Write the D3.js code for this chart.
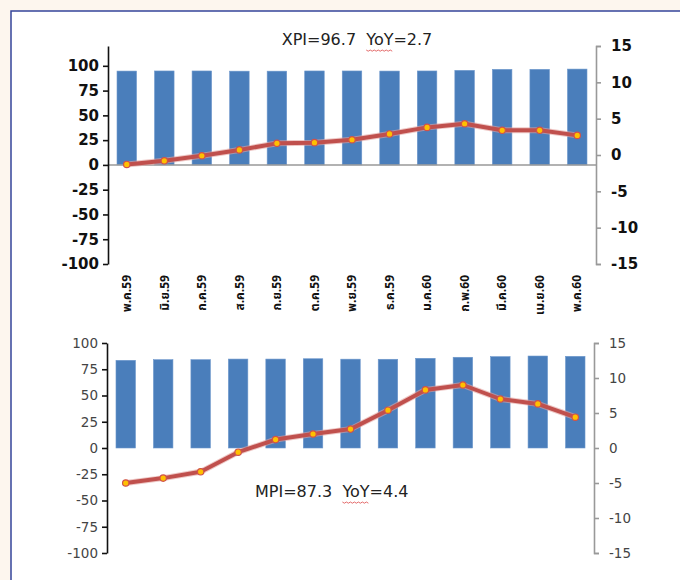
<!DOCTYPE html>
<html lang="th">
<head>
<meta charset="UTF-8">
<title>XPI / MPI</title>
<style>
  body { margin: 0; background: #fdf6ee; }
  .lbl-top text { font-family: "DejaVu Sans", sans-serif; font-weight: bold; font-size: 15px; fill: #111; }
  .lbl-bot text { font-family: "DejaVu Sans", sans-serif; font-size: 13.5px; fill: #444; }
  .month { font-family: "Noto Sans Thai", "Noto Sans", "DejaVu Sans", sans-serif; font-size: 12px; font-weight: bold; fill: #111; }
  .note { font-family: "DejaVu Sans", sans-serif; font-size: 16px; fill: #222; white-space: pre; }
</style>
</head>
<body>
<svg width="680" height="580"></svg>
<script src="https://d3js.org/d3.v7.min.js"></script>
<script>
var months = ["พ.ค.59", "มิ.ย.59", "ก.ค.59", "ส.ค.59", "ก.ย.59", "ต.ค.59", "พ.ย.59",
              "ธ.ค.59", "ม.ค.60", "ก.พ.60", "มี.ค.60", "เม.ย.60", "พ.ค.60"];
var xpi    = [94.7, 94.8, 94.8, 94.6, 94.6, 94.8, 94.8, 94.7, 94.8, 95.4, 96.4, 96.4, 96.7];
var xpiYoY = [-1.3, -0.8, -0.1, 0.7, 1.6, 1.7, 2.1, 2.9, 3.8, 4.3, 3.4, 3.4, 2.7];
var mpi    = [83.5, 84.1, 84.1, 84.7, 84.7, 85.0, 84.6, 84.5, 85.4, 86.4, 87.0, 87.6, 87.3];
var mpiYoY = [-5.0, -4.3, -3.4, -0.6, 1.2, 2.0, 2.7, 5.4, 8.3, 9.0, 7.0, 6.3, 4.4];
var leftTicks  = [-100, -75, -50, -25, 0, 25, 50, 75, 100];
var rightTicks = [-15, -10, -5, 0, 5, 10, 15];

var svg = d3.select("svg");
var plain = function(d) { return String(d); };   // hyphen minus, like the original

// frame
svg.append("rect").attr("x", 11).attr("y", 11).attr("width", 700).attr("height", 600)
  .attr("fill", "#fff").attr("stroke", "#34449a").attr("stroke-width", 1.5);

function panel(opt) {
  var g = svg.append("g");
  var x = d3.scaleBand().domain(months).range([opt.x0, opt.x1])
      .paddingInner(0.48).paddingOuter(0.24);
  var yL = d3.scaleLinear().domain(opt.leftDomain).range([opt.yBot, opt.yTop]);
  var yR = d3.scaleLinear().domain([-15, 15]).range([opt.yBot, opt.yTop]);

  g.selectAll(".bar").data(opt.bars).enter().append("rect")
    .attr("x", function(d, i) { return x(months[i]); })
    .attr("width", x.bandwidth())
    .attr("y", function(d) { return yL(d); })
    .attr("height", function(d) { return yL(0) - yL(d); })
    .attr("fill", "#4a7ebb").attr("stroke", "#6d97cc").attr("stroke-width", 0.6);

  if (opt.zeroLine) {
    g.append("line").attr("x1", opt.x0).attr("x2", opt.x1)
      .attr("y1", yL(0)).attr("y2", yL(0))
      .attr("stroke", "#999").attr("stroke-width", 1.5);
  }

  var la = g.append("g").attr("class", opt.cls)
    .attr("transform", "translate(" + opt.x0 + ",0)")
    .call(d3.axisLeft(yL).tickValues(leftTicks).tickFormat(plain)
      .tickSize(5).tickSizeOuter(0).tickPadding(4));
  la.selectAll("path, line").attr("stroke", "#111").attr("stroke-width", 1.6);

  var ra = g.append("g").attr("class", opt.cls)
    .attr("transform", "translate(" + opt.x1 + ",0)")
    .call(d3.axisRight(yR).tickValues(rightTicks).tickFormat(plain)
      .tickSize(5).tickSizeOuter(5).tickPadding(10));
  ra.selectAll("path, line").attr("stroke", "#999").attr("stroke-width", 1.6);
  g.selectAll(".domain").attr("fill", "none");

  var line = d3.line()
    .x(function(d, i) { return x(months[i]) + x.bandwidth() / 2; })
    .y(function(d) { return yR(d); });

  g.append("path").datum(opt.yoy).attr("d", line)
    .attr("fill", "none").attr("stroke", "#e3a3a0").attr("stroke-width", 6)
    .attr("stroke-linejoin", "round").attr("opacity", 0.6);
  g.append("path").datum(opt.yoy).attr("d", line)
    .attr("fill", "none").attr("stroke", "#c0504d").attr("stroke-width", 4)
    .attr("stroke-linejoin", "round");
  g.selectAll(".pt").data(opt.yoy).enter().append("circle")
    .attr("cx", function(d, i) { return x(months[i]) + x.bandwidth() / 2; })
    .attr("cy", function(d) { return yR(d); })
    .attr("r", 3.2).attr("fill", "#ffc000").attr("stroke", "#d0524a").attr("stroke-width", 1.2);

  if (opt.labels) {
    g.selectAll(".month").data(months).enter().append("text")
      .attr("class", "month")
      .attr("text-anchor", "end")
      .attr("dy", "0.35em")
      .attr("transform", function(d) {
        return "translate(" + (x(d) + x.bandwidth() / 2) + "," + opt.labelY + ") rotate(-90)";
      })
      .text(function(d) { return d; });
  }

  // note text with spell-check squiggle under "YoY"
  var t = svg.append("text").attr("class", "note")
    .attr("x", opt.noteX).attr("y", opt.noteY)
    .attr("text-anchor", opt.noteAnchor)
    .text(opt.note);
  var k = opt.note.indexOf("YoY");
  var a = t.node().getExtentOfChar(k), b = t.node().getExtentOfChar(k + 2);
  var sx = a.x, ex = b.x + b.width, sy = a.y + a.height + 1;
  var pts = [];
  for (var px = sx, j = 0; px <= ex; px += 2, j++) pts.push([px, sy + (j % 2 ? 1.2 : 0)]);
  svg.append("path").attr("d", d3.line()(pts))
    .attr("fill", "none").attr("stroke", "#e05a5a").attr("stroke-width", 0.9);
}

panel({
  x0: 108, x1: 596, yTop: 46, yBot: 264, leftDomain: [-100, 120],
  bars: xpi, yoy: xpiYoY, cls: "lbl-top", zeroLine: true, labels: true, labelY: 275,
  note: "XPI=96.7  YoY=2.7", noteX: 357, noteY: 45, noteAnchor: "middle"
});

panel({
  x0: 107, x1: 594, yTop: 343, yBot: 553, leftDomain: [-100, 100],
  bars: mpi, yoy: mpiYoY, cls: "lbl-bot", zeroLine: false, labels: false,
  note: "MPI=87.3  YoY=4.4", noteX: 255, noteY: 497, noteAnchor: "start"
});
</script>
</body>
</html>
